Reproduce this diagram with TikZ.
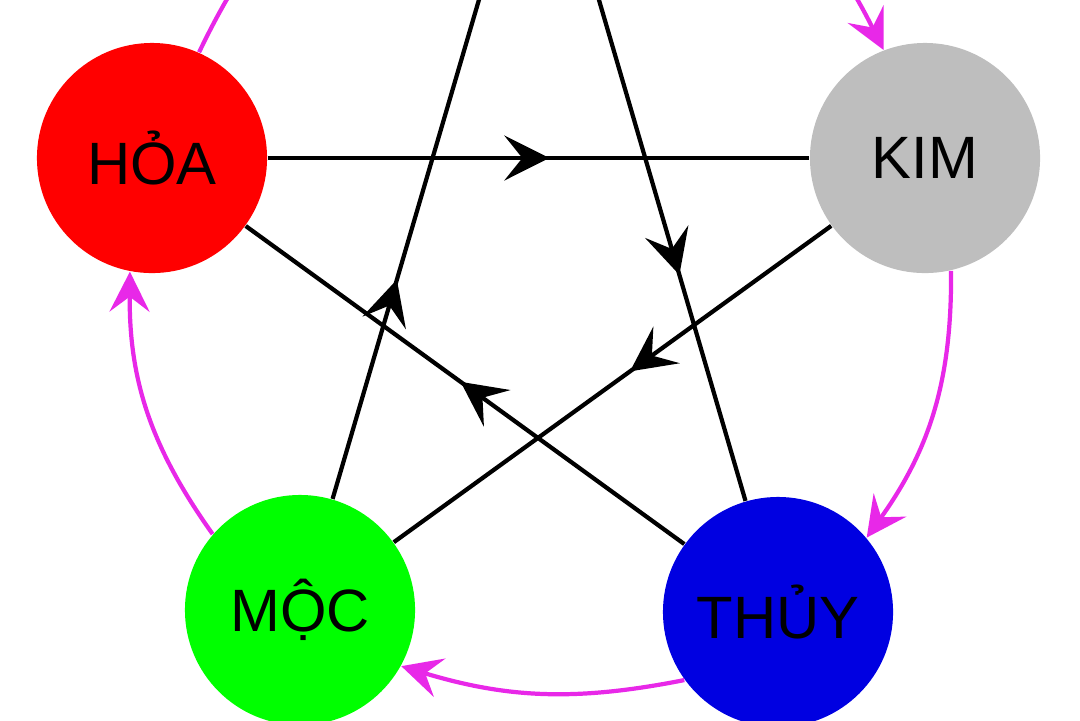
\documentclass[tikz,border=0pt]{standalone}
\usepackage{fontspec}
\setmainfont{Liberation Sans}
\usetikzlibrary{arrows.meta,decorations.markings}
\definecolor{kgray}{RGB}{190,190,190}
\definecolor{kgreen}{RGB}{0,255,0}
\definecolor{kblue}{RGB}{0,0,225}
\definecolor{kmag}{RGB}{232,40,232}
\begin{document}
\begin{tikzpicture}[x=0.01cm,y=-0.01cm,
  elem/.style={circle,minimum size=2.3cm,inner sep=0,font=\fontsize{17}{20}\selectfont},
  ctrl/.style={line width=1.2pt,black,postaction={decorate},decoration={markings,
     mark=at position #1 with {\arrow{Stealth[length=4.5mm,width=4.5mm,inset=1.8mm]}}}},
  ctrl/.default=0.5,
  gen/.style={line width=1.2pt,kmag,-{Stealth[length=4mm,width=4mm,inset=1.5mm]}}]
\useasboundingbox (0,0) rectangle (1080,720);
\clip (0,0) rectangle (1080,720);
\node[elem,fill=red] (hoa) at (152,158) {HỎA};
\node[elem,fill=kgray] (kim) at (925,158) {KIM};
\node[elem,fill=kgreen] (moc) at (300,610) {MỘC};
\node[elem,fill=kblue] (thuy) at (778,612) {THỦY};
\node[elem] (tho) at (539,-205) {};
\draw[ctrl=0.52] (hoa) -- (kim);
\draw[ctrl=0.62] (tho) -- (thuy);
\draw[ctrl=0.46] (kim) -- (moc);
\draw[ctrl=0.51] (thuy) -- (hoa);
\draw[ctrl=0.37] (moc) -- (tho);
\draw[gen] (kim.-77) to[bend left=18] (thuy.40);
\draw[gen] (thuy.-144) to[bend left=14] (moc.-29);
\draw[gen] (moc.139) to[bend left=18] (hoa.-101);
\draw[gen] (hoa.66) to[bend left=18] (tho.190);
\draw[gen] (tho.-10) to[bend left=18] (kim.111);
\end{tikzpicture}
\end{document}
